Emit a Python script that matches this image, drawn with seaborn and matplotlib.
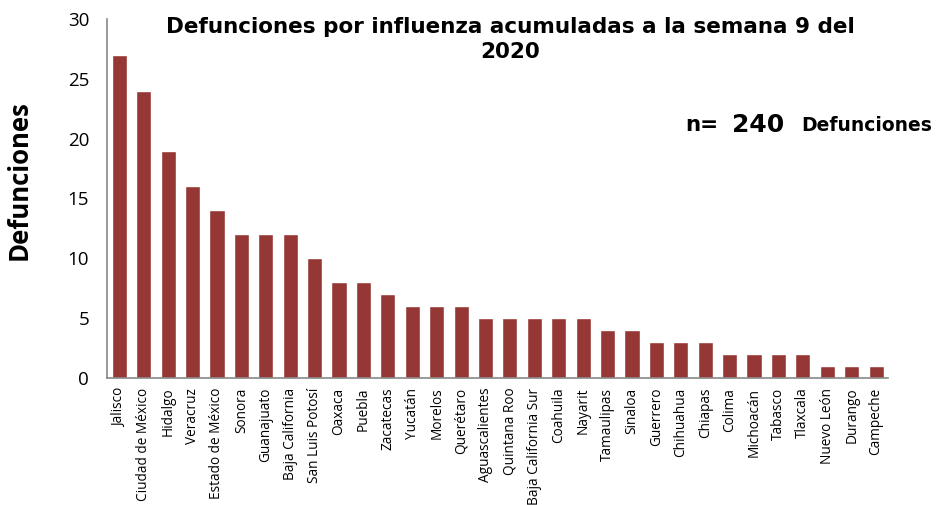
import pandas as pd
import numpy as np
import matplotlib.pyplot as plt
import seaborn as sns

# Datos: defunciones por influenza por estado, semana 9 de 2020
estados = ['Jalisco', 'Ciudad de México', 'Hidalgo', 'Veracruz', 'Estado de México',
           'Sonora', 'Guanajuato', 'Baja California', 'San Luis Potosí', 'Oaxaca',
           'Puebla', 'Zacatecas', 'Yucatán', 'Morelos', 'Querétaro', 'Aguascalientes',
           'Quintana Roo', 'Baja California Sur', 'Coahuila', 'Nayarit', 'Tamaulipas',
           'Sinaloa', 'Guerrero', 'Chihuahua', 'Chiapas', 'Colima', 'Michoacán',
           'Tabasco', 'Tlaxcala', 'Nuevo León', 'Durango', 'Campeche']
defunciones = [27, 24, 19, 16, 14, 12, 12, 12, 10, 8, 8, 7, 6, 6, 6, 5, 5, 5, 5, 5,
               4, 4, 3, 3, 3, 2, 2, 2, 2, 1, 1, 1]
total = 240

df = pd.DataFrame({'estado': estados, 'defunciones': defunciones})

sns.set_style('white')
plt.rcParams['font.family'] = ['Open Sans', 'DejaVu Sans']
plt.rcParams['text.color'] = 'black'
plt.rcParams['xtick.color'] = 'black'
plt.rcParams['ytick.color'] = 'black'
plt.rcParams['axes.labelcolor'] = 'black'

fig = plt.figure(figsize=(9.48, 5.05), dpi=100)
ax = fig.add_axes([0.113, 0.2515, 0.824, 0.711])

sns.barplot(data=df, x='estado', y='defunciones', color='#953735', width=0.62,
            saturation=1, ax=ax)

ax.set_ylim(0, 30)
ax.set_yticks(range(0, 31, 5))
ax.set_xlim(-0.5, len(estados) - 0.5)

# Ejes estilo Excel
for s in ['top', 'right']:
    ax.spines[s].set_visible(False)
for s in ['left', 'bottom']:
    ax.spines[s].set_color('#888888')
    ax.spines[s].set_linewidth(1.2)

ax.set_xticks(np.arange(len(estados)))
ax.set_xticklabels(estados, rotation=90, fontsize=9.8)
ax.tick_params(axis='x', length=0, pad=7)
ax.set_xticks(np.arange(-0.5, len(estados), 1), minor=True)
ax.tick_params(axis='x', which='minor', length=5, color='#888888', width=1)
ax.tick_params(axis='y', length=5, color='#888888', labelcolor='black', width=1,
               labelsize=13.5, pad=8)

ax.set_xlabel('')
ax.set_ylabel('Defunciones', fontsize=18.5, fontweight='bold')
ax.yaxis.set_label_coords(-0.095, 0.55)

bold = dict(fontweight='bold', family='DejaVu Sans', va='center')
fig.text(0.538, 0.922, 'Defunciones por influenza acumuladas a la semana 9 del\n2020',
         ha='center', fontsize=15.5, linespacing=1.35, **bold)

fig.text(0.723, 0.752, 'n=', fontsize=15.5, **bold)
fig.text(0.772, 0.752, str(total), fontsize=18, **bold)
fig.text(0.845, 0.752, 'Defunciones', fontsize=13.5, **bold)

plt.savefig('out.png', dpi=100)
